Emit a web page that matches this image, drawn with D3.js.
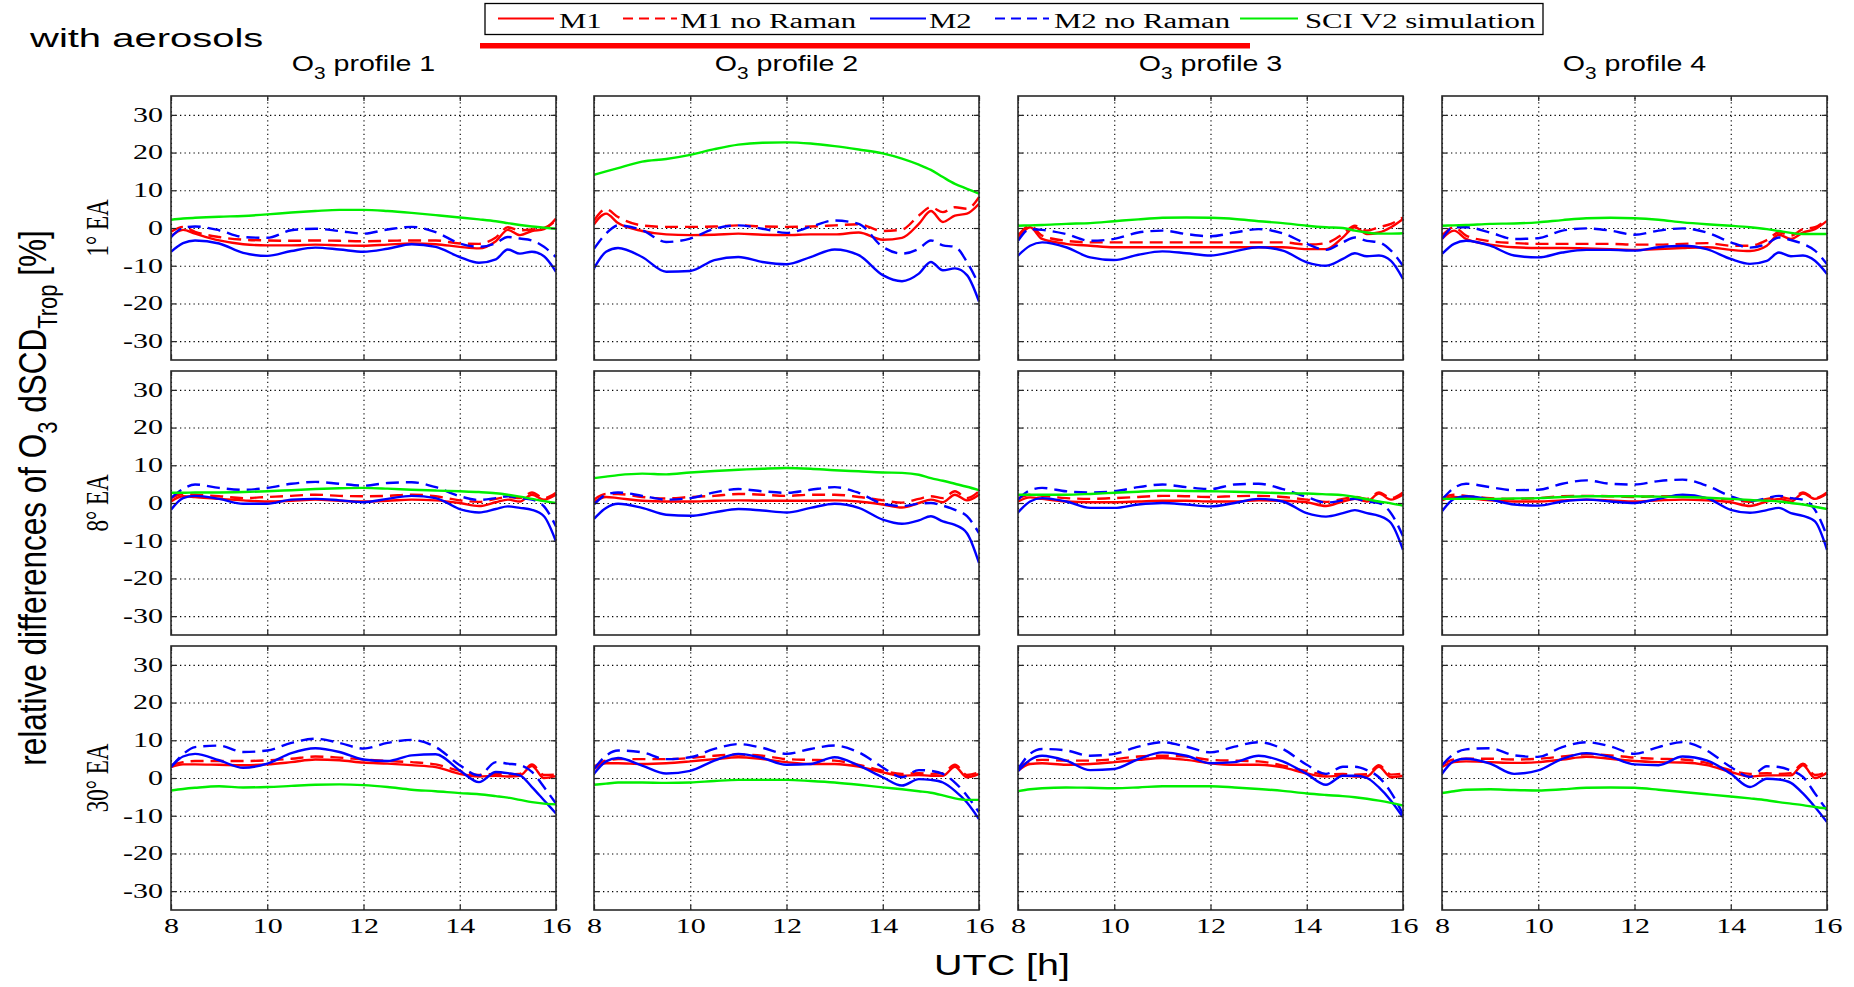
<!DOCTYPE html>
<html>
<head>
<meta charset="utf-8">
<script src="https://cdn.jsdelivr.net/npm/d3@7"></script>
<style>
  body { margin: 0; background: #fff; }
</style>
</head>
<body>
<div id="chart"></div>
<script>
// time grid (UTC hours) shared by every curve
const hours = [8, 8.25, 8.5, 9, 9.5, 10, 10.5, 11, 11.5, 12, 12.5, 13, 13.5, 14, 14.4, 14.75, 15, 15.25, 15.5, 15.75, 16];
const xTicks = [8, 10, 12, 14, 16];
const yTicks = [-30, -20, -10, 0, 10, 20, 30];
const rowLabels = ["1° EA", "8° EA", "30° EA"];
const profileLabels = ["profile 1", "profile 2", "profile 3", "profile 4"];
const seriesNames = ["M1", "M1 no Raman", "M2", "M2 no Raman", "SCI V2 simulation"];

// values per [row][column] (%)
const M1 = [
  [
    [-2.2, -0.5, -1.5, -3.3, -4.3, -4.6, -4.6, -4.4, -4.6, -4.7, -4.4, -4.1, -4.3, -5.0, -5.4, -3.5, -0.5, -1.9, -0.8, -0.3, 2.5],
    [1.0, 3.8, 1.3, -0.8, -1.7, -1.9, -1.8, -1.5, -1.8, -1.9, -1.7, -1.7, -1.2, -3.1, -2.6, 1.1, 4.5, 1.6, 3.3, 3.8, 6.4],
    [-2.9, 0.2, -2.9, -4.2, -4.7, -5.1, -5.1, -5.1, -5.1, -5.1, -5.1, -5.1, -5.1, -5.6, -5.6, -2.5, 0.2, -1.6, -1.2, 0.2, 2.4],
    [-2.9, -0.7, -2.9, -4.4, -5.1, -5.3, -5.3, -5.4, -5.6, -5.8, -5.6, -5.3, -5.1, -5.8, -6.1, -4.7, -1.8, -2.9, -1.2, -0.3, 1.9]
  ],
  [
    [0.4, 1.8, 1.6, 1.1, 0.7, 0.4, 0.6, 0.9, 0.6, 0.4, 0.6, 0.9, 0.7, 0.0, -0.8, 0.2, 0.9, 0.4, 2.2, 0.9, 2.2],
    [0.2, 1.6, 1.3, 0.6, 0.4, 0.4, 0.6, 0.7, 0.6, 0.6, 0.6, 0.7, 0.4, -0.4, -1.2, 0.0, 0.9, 0.2, 2.2, 0.7, 2.2],
    [0.4, 1.5, 1.1, 0.4, 0.2, 0.2, 0.4, 0.6, 0.6, 0.4, 0.4, 0.7, 0.6, 0.2, -0.8, 0.4, 1.1, 0.4, 2.5, 0.9, 2.2],
    [0.7, 1.6, 1.3, 0.7, 0.4, 0.4, 0.7, 0.9, 0.7, 0.4, 0.7, 0.9, 0.7, 0.2, -0.8, 0.4, 1.1, 0.4, 2.5, 1.1, 2.5]
  ],
  [
    [2.9, 3.6, 3.6, 3.5, 3.4, 3.6, 4.2, 4.9, 4.7, 4.1, 3.8, 3.4, 2.9, 1.1, 0.4, 0.6, 0.4, 0.6, 3.2, 0.0, 0.5],
    [2.4, 3.9, 3.9, 3.7, 3.9, 4.4, 5.0, 5.5, 5.0, 4.2, 3.7, 3.7, 3.0, 1.5, 0.6, 0.8, 0.6, 0.6, 3.0, 0.2, 1.1],
    [1.9, 3.7, 3.9, 3.5, 3.7, 4.2, 4.8, 5.3, 4.8, 3.9, 3.5, 3.5, 2.8, 1.2, 0.4, 0.6, 0.4, 0.4, 3.0, 0.2, 0.6],
    [2.9, 4.2, 4.4, 4.2, 4.0, 4.2, 4.9, 5.6, 5.1, 4.5, 4.2, 4.1, 3.4, 1.6, 0.4, 0.7, 0.7, 0.7, 3.4, 0.0, 1.4]
  ]
];

const M1noRaman = [
  [
    [-1.0, 0.3, -1.0, -2.4, -3.1, -3.3, -3.4, -3.3, -3.4, -3.5, -3.4, -3.3, -3.3, -4.1, -4.2, -2.5, 0.2, -0.6, -0.4, 0.0, 2.0],
    [2.0, 5.0, 2.9, 0.7, 0.3, 0.3, 0.4, 0.7, 0.4, 0.3, 0.4, 0.7, 1.0, -0.8, -0.4, 3.3, 5.5, 4.2, 5.5, 5.1, 8.2],
    [-2.0, 0.6, -2.0, -3.4, -3.8, -3.8, -3.8, -3.8, -3.8, -3.8, -3.8, -3.8, -3.8, -4.4, -4.0, -1.6, 0.6, -0.7, 0.2, 1.1, 2.8],
    [-2.0, 0.2, -2.0, -3.5, -4.0, -4.2, -4.2, -4.2, -4.2, -4.4, -4.4, -4.2, -4.0, -4.7, -4.7, -3.2, -1.2, -2.0, -0.3, 0.2, 2.4]
  ],
  [
    [1.3, 2.4, 2.2, 1.8, 1.3, 1.6, 1.9, 2.2, 1.9, 1.8, 1.9, 2.2, 1.8, 0.7, 0.3, 1.1, 1.6, 1.3, 2.8, 1.3, 2.7],
    [0.9, 2.4, 2.4, 1.6, 1.2, 1.6, 1.9, 2.4, 2.2, 1.9, 2.2, 2.2, 1.6, 0.7, 0.1, 1.1, 1.8, 1.3, 3.1, 1.3, 3.1],
    [1.2, 2.2, 1.9, 1.3, 1.1, 1.3, 1.6, 1.9, 1.8, 1.6, 1.8, 1.9, 1.6, 0.9, 0.3, 1.1, 1.6, 1.1, 2.8, 1.3, 2.8],
    [1.3, 2.2, 1.9, 1.3, 1.1, 1.3, 1.8, 1.9, 1.8, 1.6, 1.8, 1.8, 1.3, 0.9, 0.3, 1.1, 1.6, 1.1, 2.8, 1.3, 2.8]
  ],
  [
    [3.4, 4.2, 4.5, 4.5, 4.5, 4.7, 5.1, 5.7, 5.4, 4.9, 4.5, 4.2, 3.6, 1.9, 0.8, 1.1, 1.0, 1.1, 3.6, 0.8, 0.9],
    [3.0, 4.6, 5.0, 5.0, 5.0, 5.3, 5.9, 6.2, 5.9, 5.0, 4.8, 4.6, 3.5, 1.9, 1.1, 1.3, 1.1, 1.3, 3.5, 0.8, 1.5],
    [2.6, 4.4, 4.8, 4.6, 4.6, 5.0, 5.7, 5.9, 5.7, 4.8, 4.6, 4.4, 3.3, 1.8, 0.9, 1.1, 0.9, 1.0, 3.4, 0.9, 1.2],
    [3.6, 4.9, 5.1, 5.1, 4.9, 5.1, 5.7, 6.3, 6.0, 5.4, 5.1, 4.9, 4.0, 2.0, 1.1, 1.3, 1.1, 1.3, 3.8, 0.8, 1.6]
  ]
];

const M2 = [
  [
    [-6.3, -4.0, -3.3, -4.1, -6.6, -7.4, -6.1, -5.2, -5.7, -6.3, -5.5, -4.3, -5.0, -7.7, -9.2, -8.3, -5.7, -6.8, -6.3, -7.5, -11.6],
    [-10.7, -6.3, -5.3, -7.7, -11.6, -11.4, -8.5, -7.7, -9.0, -9.6, -7.7, -5.7, -7.2, -12.5, -14.1, -12.1, -9.0, -11.2, -10.7, -12.5, -19.5],
    [-7.3, -4.7, -3.8, -5.1, -7.8, -8.5, -7.1, -6.2, -6.7, -7.3, -6.2, -5.1, -6.0, -9.1, -10.0, -8.2, -6.7, -7.5, -7.3, -8.7, -13.5],
    [-6.9, -4.2, -3.4, -4.7, -7.3, -7.8, -6.5, -5.8, -5.8, -6.0, -5.1, -4.7, -5.6, -8.2, -9.5, -8.7, -6.5, -7.5, -7.3, -8.7, -12.2]
  ],
  [
    [-1.8, 1.3, 1.9, 1.1, -0.2, -0.2, 0.9, 1.1, 0.7, 0.2, 1.1, 1.9, 1.3, -1.6, -2.5, -1.6, -0.9, -1.3, -1.8, -3.5, -10.2],
    [-4.2, -1.3, -0.2, -1.3, -3.1, -3.4, -2.5, -1.6, -2.0, -2.5, -1.3, -0.2, -1.3, -4.4, -5.5, -4.6, -3.5, -4.9, -5.8, -8.0, -15.9],
    [-2.5, 0.4, 1.3, 0.4, -1.3, -1.3, -0.4, 0.0, -0.4, -0.9, 0.0, 1.1, 0.4, -2.7, -3.6, -2.7, -1.9, -2.7, -3.4, -5.3, -12.4],
    [-2.2, 1.1, 1.8, 0.9, -0.4, -0.7, 0.4, 0.9, 0.4, 0.0, 1.1, 2.2, 1.3, -1.8, -2.6, -1.9, -1.3, -2.7, -3.4, -4.9, -12.4]
  ],
  [
    [2.9, 5.7, 6.4, 4.7, 2.7, 3.8, 6.6, 7.9, 6.9, 4.9, 4.5, 6.0, 6.3, 2.0, -1.1, 1.6, 1.3, 0.7, -2.4, -5.9, -9.4],
    [1.1, 4.4, 5.3, 3.3, 1.2, 1.9, 4.6, 6.4, 5.3, 3.5, 3.7, 5.5, 3.3, 0.2, -2.0, -0.3, -0.5, -1.2, -3.4, -6.5, -10.9],
    [1.8, 4.8, 5.9, 4.6, 2.1, 2.4, 5.0, 6.8, 5.9, 3.9, 4.2, 5.9, 4.4, 1.1, -1.8, 0.6, 0.6, 0.0, -2.5, -6.0, -10.4],
    [1.1, 4.5, 5.1, 3.8, 1.1, 2.0, 5.1, 6.6, 5.6, 3.6, 3.4, 5.7, 4.7, 1.1, -2.4, -0.2, -0.4, -1.3, -4.1, -7.7, -11.7]
  ]
];

const M2noRaman = [
  [
    [-2.4, 0.0, 0.4, -0.6, -2.4, -2.6, -0.6, -0.2, -0.8, -1.5, -0.4, 0.3, -1.1, -4.1, -5.0, -4.0, -2.4, -2.8, -3.3, -5.0, -7.7],
    [-5.5, -1.5, 0.7, -0.6, -3.7, -2.8, -0.2, 0.7, -0.2, -1.3, 0.3, 2.0, 1.1, -5.0, -6.8, -5.5, -3.3, -4.6, -5.0, -9.0, -15.1],
    [-3.4, -0.3, -0.5, -1.6, -3.4, -2.9, -1.2, -0.7, -1.6, -2.2, -1.2, -0.3, -1.4, -4.2, -5.8, -3.8, -2.5, -3.4, -3.8, -6.0, -10.0],
    [-2.9, 0.2, 0.2, -1.2, -2.9, -2.7, -0.7, -0.1, -0.7, -1.8, -0.7, -0.1, -1.2, -3.8, -5.2, -4.2, -2.5, -3.2, -4.2, -6.0, -9.6]
  ],
  [
    [1.3, 3.7, 4.9, 4.0, 3.5, 4.0, 5.1, 5.6, 5.1, 4.6, 5.3, 5.5, 4.2, 1.8, 0.8, 1.3, 1.8, 1.3, 0.9, -0.9, -6.2],
    [-0.4, 2.2, 2.8, 1.9, 0.9, 1.3, 2.8, 3.7, 3.1, 2.7, 3.5, 4.2, 2.7, -0.2, -0.8, -0.2, 0.0, -0.7, -1.8, -3.5, -8.0],
    [0.9, 3.4, 4.0, 3.1, 2.8, 3.1, 4.2, 4.9, 4.2, 3.7, 4.9, 5.1, 3.7, 1.6, 0.1, 0.7, 1.1, 0.4, 0.0, -2.7, -8.8],
    [0.9, 4.0, 5.1, 4.2, 3.4, 3.5, 5.1, 6.0, 5.1, 4.9, 5.8, 6.2, 4.6, 1.8, 0.5, 1.3, 1.9, 1.3, 0.9, -1.8, -8.8]
  ],
  [
    [2.9, 6.3, 8.2, 8.6, 6.9, 7.3, 9.3, 10.4, 9.3, 7.8, 9.3, 10.1, 8.2, 3.4, 0.7, 4.2, 3.8, 3.4, 1.6, -2.4, -6.8],
    [2.4, 5.9, 7.3, 6.8, 5.0, 5.5, 7.7, 9.0, 8.0, 6.4, 7.7, 8.6, 6.8, 2.8, 0.2, 2.1, 1.9, 1.1, -1.2, -4.7, -9.1],
    [2.4, 6.4, 7.7, 7.3, 5.9, 6.4, 8.3, 9.5, 8.3, 6.8, 8.3, 9.5, 7.7, 3.5, 1.1, 3.0, 3.0, 2.1, 0.2, -3.8, -9.6],
    [3.4, 6.4, 7.6, 7.9, 6.0, 5.6, 8.2, 9.5, 8.4, 6.4, 8.2, 9.5, 7.3, 2.9, 0.3, 3.1, 2.9, 2.0, 0.3, -4.1, -8.6]
  ]
];

const SCI = [
  [
    [2.2, 2.5, 2.7, 3.0, 3.2, 3.6, 4.1, 4.5, 4.8, 4.8, 4.5, 4.0, 3.4, 2.8, 2.3, 1.8, 1.3, 0.8, 0.4, 0.1, -0.2],
    [14.1, 15.0, 15.9, 17.6, 18.3, 19.4, 20.9, 22.1, 22.6, 22.7, 22.4, 21.7, 20.8, 19.8, 18.4, 16.8, 15.4, 13.5, 11.7, 10.4, 9.1],
    [0.6, 0.7, 0.8, 1.1, 1.3, 1.8, 2.3, 2.7, 2.8, 2.7, 2.4, 1.8, 1.3, 0.6, 0.2, 0.0, -0.7, -1.2, -1.5, -1.5, -1.4],
    [0.6, 0.7, 0.8, 1.1, 1.2, 1.5, 2.1, 2.6, 2.7, 2.6, 2.2, 1.5, 1.0, 0.6, 0.2, -0.3, -0.8, -1.3, -1.6, -1.6, -1.6]
  ],
  [
    [2.7, 2.7, 2.8, 2.8, 2.9, 3.1, 3.4, 3.7, 3.9, 4.0, 3.8, 3.5, 3.3, 3.1, 2.9, 2.6, 2.2, 1.7, 1.1, 0.5, 0.0],
    [6.6, 7.0, 7.4, 7.8, 7.6, 8.1, 8.5, 8.8, 9.1, 9.3, 9.1, 8.7, 8.4, 8.1, 8.0, 7.5, 6.6, 5.9, 5.1, 4.3, 3.4],
    [2.2, 2.2, 2.2, 2.2, 2.4, 2.7, 3.0, 3.3, 3.2, 3.1, 3.0, 2.8, 2.6, 2.5, 2.3, 2.1, 1.6, 1.0, 0.4, -0.1, -0.7],
    [1.1, 1.1, 1.1, 1.1, 1.2, 1.3, 1.6, 1.8, 1.8, 1.8, 1.7, 1.6, 1.4, 1.1, 0.8, 0.6, 0.4, 0.0, -0.4, -1.0, -1.6]
  ],
  [
    [-3.3, -2.9, -2.6, -2.2, -2.5, -2.4, -2.1, -1.8, -1.7, -1.9, -2.4, -3.1, -3.5, -4.0, -4.3, -4.8, -5.2, -5.8, -6.4, -6.8, -7.0],
    [-1.8, -1.5, -1.2, -1.2, -1.3, -1.2, -0.8, -0.5, -0.5, -0.5, -0.8, -1.2, -1.8, -2.5, -3.0, -3.5, -3.9, -4.6, -5.4, -5.8, -5.8],
    [-3.5, -3.0, -2.7, -2.5, -2.6, -2.7, -2.5, -2.2, -2.2, -2.2, -2.5, -2.9, -3.4, -4.1, -4.5, -4.8, -5.1, -5.5, -6.0, -6.6, -7.3],
    [-4.0, -3.5, -3.1, -3.0, -3.2, -3.3, -3.0, -2.6, -2.5, -2.6, -3.1, -3.7, -4.3, -4.9, -5.4, -5.9, -6.4, -6.8, -7.2, -7.7, -8.1]
  ]
];

const seriesData = [M1, M1noRaman, M2, M2noRaman, SCI];
const seriesStyle = [
  { color: "#ff0000", dash: null },
  { color: "#ff0000", dash: "13,7" },
  { color: "#0000ff", dash: null },
  { color: "#0000ff", dash: "13,7" },
  { color: "#00ee00", dash: null }
];

const W = 1854, H = 987;
const colX = [171, 594, 1018, 1442];
const rowY = [96, 371, 646];
const pw = 385, ph = 264;
const serif = "'Liberation Serif', 'Times New Roman', serif";
const sans = "'Liberation Sans', Arial, sans-serif";

const svg = d3.select("#chart").append("svg")
  .attr("width", W).attr("height", H)
  .style("background", "#fff");

const x = d3.scaleLinear().domain([8, 16]).range([0, pw]);
const y = d3.scaleLinear().domain([-35, 35]).range([ph, 0]);

// horizontally stretched text, like the original figure
function stext(parent, tx, ty, sx, str) {
  return parent.append("text")
    .attr("transform", `translate(${tx},${ty}) scale(${sx},1)`)
    .text(str);
}

const line = d3.line()
  .x((d, i) => x(hours[i]))
  .y(d => y(d))
  .curve(d3.curveMonotoneX);

rowY.forEach((py, r) => {
  colX.forEach((px, c) => {
    const g = svg.append("g").attr("transform", `translate(${px},${py})`);
    const clipId = `clip-${r}-${c}`;
    g.append("clipPath").attr("id", clipId)
      .append("rect").attr("width", pw).attr("height", ph);

    // dotted grid
    const grid = g.append("g");
    grid.append("g").call(d3.axisLeft(y).tickValues(yTicks).tickSize(-pw).tickFormat(""));
    grid.append("g").attr("transform", `translate(0,${ph})`)
      .call(d3.axisBottom(x).tickValues(xTicks).tickSize(-ph).tickFormat(""));
    grid.selectAll(".domain").remove();
    grid.selectAll(".tick line")
      .attr("stroke", "#000").attr("stroke-width", 1.1)
      .attr("stroke-dasharray", "1.3,3.2");

    // series
    const lines = g.append("g").attr("clip-path", `url(#${clipId})`);
    seriesData.forEach((s, k) => {
      lines.append("path")
        .attr("d", line(s[r][c]))
        .attr("fill", "none")
        .attr("stroke", seriesStyle[k].color)
        .attr("stroke-width", 2.4)
        .attr("stroke-dasharray", seriesStyle[k].dash);
    });

    // inward ticks on all four sides
    const tk = g.append("g");
    tk.append("g").call(d3.axisRight(y).tickValues(yTicks).tickSize(5).tickFormat(""));
    tk.append("g").attr("transform", `translate(${pw},0)`)
      .call(d3.axisLeft(y).tickValues(yTicks).tickSize(5).tickFormat(""));
    tk.append("g").attr("transform", `translate(0,${ph})`)
      .call(d3.axisTop(x).tickValues(xTicks).tickSize(5).tickFormat(""));
    tk.append("g").call(d3.axisBottom(x).tickValues(xTicks).tickSize(5).tickFormat(""));
    tk.selectAll(".domain").remove();
    tk.selectAll(".tick line").attr("stroke", "#222").attr("stroke-width", 1.2);

    g.append("rect").attr("width", pw).attr("height", ph)
      .attr("fill", "none").attr("stroke", "#2a2a2a").attr("stroke-width", 1.6);

    if (c === 0) {
      const ya = g.append("g")
        .call(d3.axisLeft(y).tickValues(yTicks).tickSize(0).tickPadding(8).tickFormat(d => String(d)));
      ya.select(".domain").remove();
      ya.selectAll("text")
        .attr("font-family", serif).attr("font-size", 20).attr("fill", "#000")
        .attr("x", -8 / 1.5).attr("transform", "scale(1.5,1)");
    }
    if (r === 2) {
      const xa = g.append("g").attr("transform", `translate(0,${ph})`)
        .call(d3.axisBottom(x).tickValues(xTicks).tickSize(0).tickPadding(9).tickFormat(d => String(d)));
      xa.select(".domain").remove();
      xa.selectAll("text")
        .attr("font-family", serif).attr("font-size", 20).attr("fill", "#000")
        .attr("transform", "scale(1.5,1)");
    }
  });
});

// column titles
colX.forEach((px, c) => {
  const t = stext(svg, px + pw / 2, 71, 1.3, "")
    .attr("font-family", sans).attr("font-size", 22).attr("text-anchor", "middle");
  t.append("tspan").text("O");
  t.append("tspan").attr("font-size", 16).attr("dy", 8).text("3");
  t.append("tspan").attr("dy", -8).text(" " + profileLabels[c]);
});

// row labels
rowY.forEach((py, r) => {
  svg.append("text")
    .attr("transform", `translate(108,${py + ph / 2}) scale(1.4,1) rotate(-90)`)
    .attr("font-family", serif).attr("font-size", 23).attr("text-anchor", "middle")
    .text(rowLabels[r]);
});

// y axis title
const yl = svg.append("text")
  .attr("transform", `translate(46,${(rowY[0] + rowY[2] + ph) / 2 - 5}) scale(1.25,1) rotate(-90)`)
  .attr("font-family", sans).attr("font-size", 31.5).attr("text-anchor", "middle");
yl.append("tspan").text("relative differences of O");
yl.append("tspan").attr("font-size", 22).attr("dy", 9).text("3");
yl.append("tspan").attr("dy", -9).text(" dSCD");
yl.append("tspan").attr("font-size", 22).attr("dy", 9).text("Trop");
yl.append("tspan").attr("dy", -9).text(" [%]");

// x axis title
stext(svg, 1002, 975, 1.36, "UTC [h]")
  .attr("font-family", sans).attr("font-size", 29).attr("text-anchor", "middle");

// corner label
stext(svg, 30, 47, 1.6, "with aerosols")
  .attr("font-family", sans).attr("font-size", 25);

// legend
const leg = svg.append("g");
leg.append("rect").attr("x", 485).attr("y", 3.5).attr("width", 1058).attr("height", 31)
  .attr("fill", "#fff").attr("stroke", "#000").attr("stroke-width", 1.3);
const legItems = [
  { x1: 498, x2: 554, tx: 559 },
  { x1: 623, x2: 677, tx: 680 },
  { x1: 870, x2: 926, tx: 929 },
  { x1: 995, x2: 1049, tx: 1054 },
  { x1: 1240, x2: 1298, tx: 1305 }
];
legItems.forEach((it, k) => {
  leg.append("line").attr("x1", it.x1).attr("x2", it.x2).attr("y1", 18.5).attr("y2", 18.5)
    .attr("stroke", seriesStyle[k].color).attr("stroke-width", 2)
    .attr("stroke-dasharray", seriesStyle[k].dash ? "10,6" : null);
  stext(leg, it.tx, 27.5, 1.54, seriesNames[k])
    .attr("font-family", serif).attr("font-size", 20);
});
// red bar under the legend
leg.append("rect").attr("x", 480).attr("y", 43).attr("width", 770).attr("height", 5.5)
  .attr("fill", "#ff0000");
</script>
</body>
</html>
